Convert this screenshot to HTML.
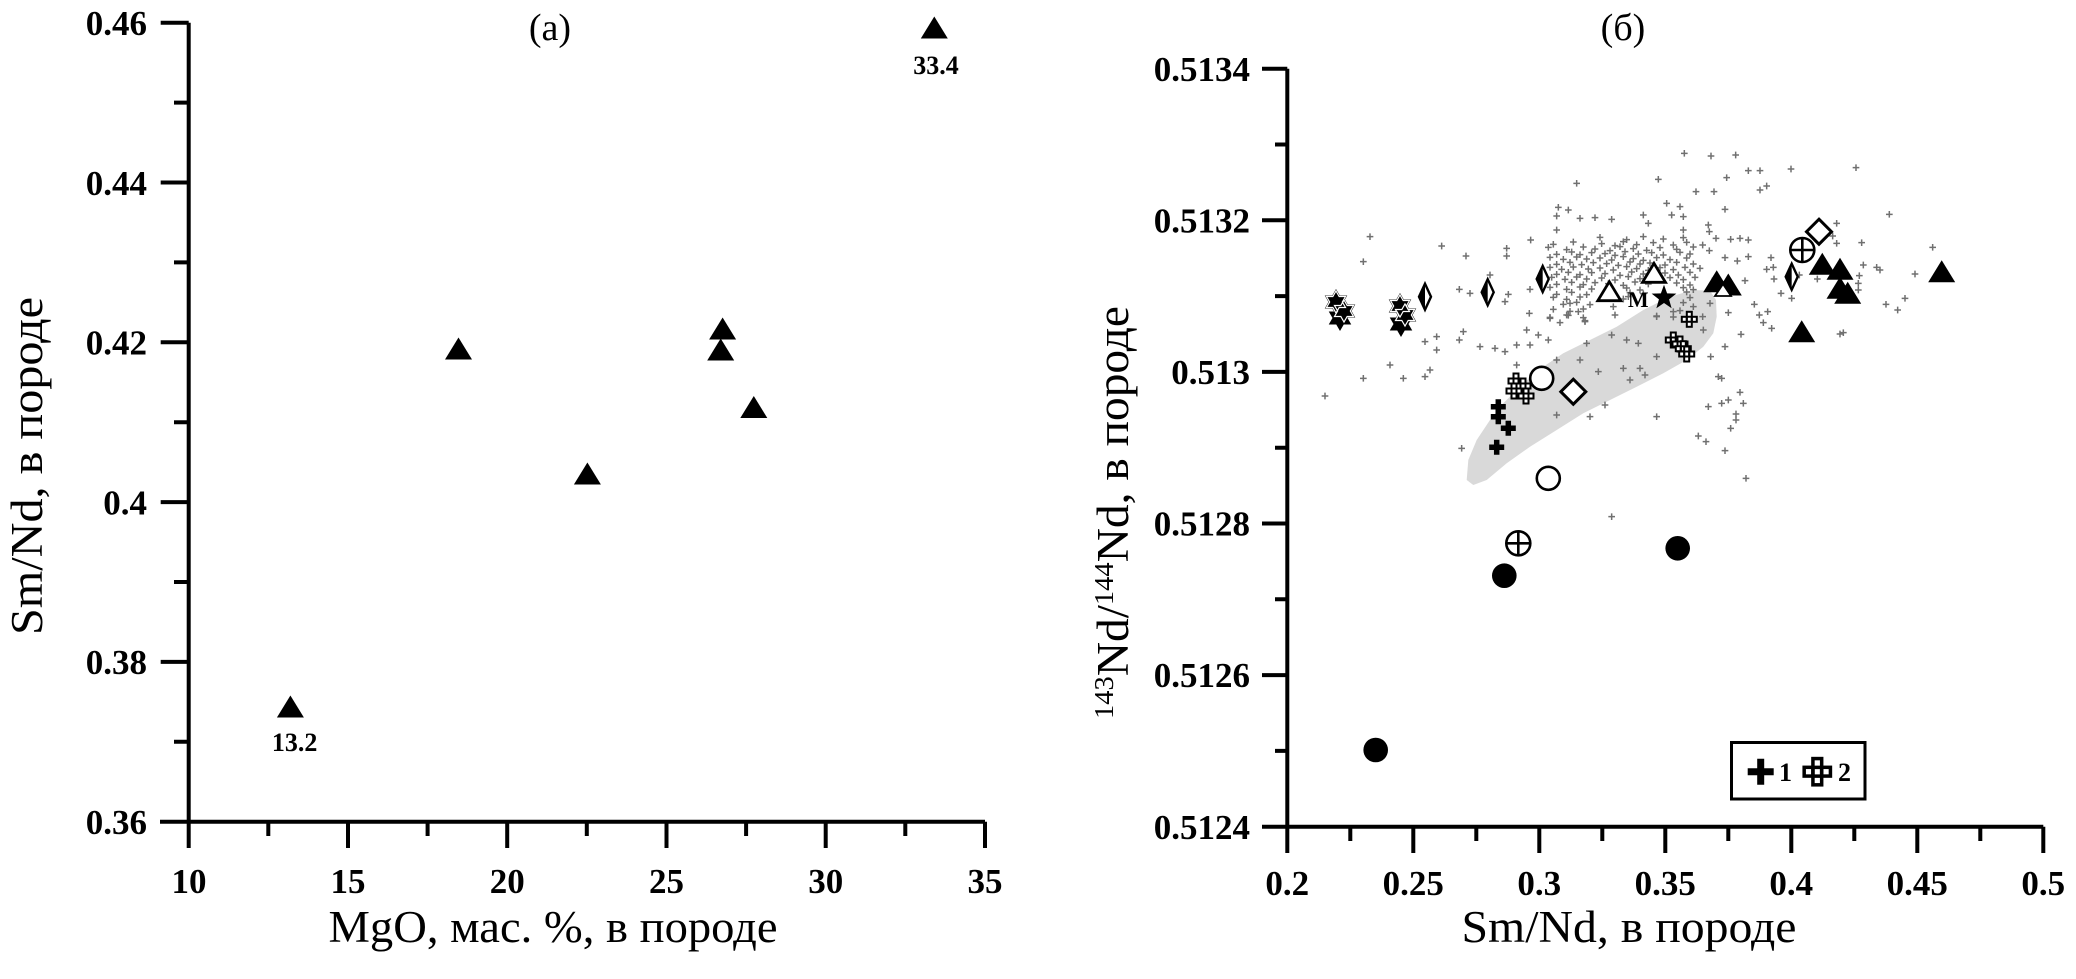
<!DOCTYPE html>
<html><head><meta charset="utf-8"><style>
html,body{margin:0;padding:0;background:#fff;}
svg{display:block;}
</style></head><body>
<svg width="2076" height="979" viewBox="0 0 2076 979" xmlns="http://www.w3.org/2000/svg">
<defs>
<path id="g" d="M-10 0h20M0-10v20" stroke="#707070" stroke-width="4.5" fill="none"/>
<polygon id="tri" points="0,-11.5 13.5,10.5 -13.5,10.5" fill="#000"/>
<polygon id="otri" points="0,-10 11.5,9 -11.5,9" fill="#fff" stroke="#000" stroke-width="2.8"/>
<polygon id="odia" points="0,-12.5 12.5,0 0,12.5 -12.5,0" fill="#fff" stroke="#000" stroke-width="3"/>
<g id="tdia"><polygon points="0,-13 6,0 0,13 -6,0" fill="#fff" stroke="#000" stroke-width="2.4"/><polygon points="0,-13 -6,0 0,13" fill="#000"/></g>
<circle id="ocir" r="11.5" fill="#fff" stroke="#000" stroke-width="2.6"/>
<g id="pcir"><circle r="12" fill="#fff" stroke="#000" stroke-width="2.6"/><path d="M-12 0h24M0-12v24" stroke="#000" stroke-width="2.6"/></g>
<circle id="fcir" r="12.3" fill="#000"/>
<path id="bx" d="M-7.5 0h15M0-7.5v15" stroke="#000" stroke-width="5.5"/>
<g id="sq"><rect x="-7.5" y="-2.5" width="15" height="5" fill="#fff" stroke="#000" stroke-width="2"/><rect x="-2.5" y="-7.5" width="5" height="15" fill="#fff" stroke="#000" stroke-width="2"/><path d="M-2.5-2.5v5M2.5-2.5v5M-2.5-2.5h5M-2.5 2.5h5" stroke="#000" stroke-width="2"/></g>
<polygon id="hex" points="0,-11 3.18,-5.5 9.53,-5.5 6.35,0 9.53,5.5 3.18,5.5 0,11 -3.18,5.5 -9.53,5.5 -6.35,0 -9.53,-5.5 -3.18,-5.5" fill="#000" stroke="#000" stroke-width="2"/>
<polygon id="hexw" points="0,-11 3.18,-5.5 9.53,-5.5 6.35,0 9.53,5.5 3.18,5.5 0,11 -3.18,5.5 -9.53,5.5 -6.35,0 -9.53,-5.5 -3.18,-5.5" fill="none" stroke="#fff" stroke-width="1.2"/>
<polygon id="star5" points="0,-13 3.12,-4.29 12.36,-4.02 5.04,1.64 7.64,10.52 0,5.3 -7.64,10.52 -5.04,1.64 -12.36,-4.02 -3.12,-4.29" fill="#000"/>
</defs>

<!-- ================= LEFT PANEL ================= -->
<g stroke="#000" stroke-width="4" fill="none">
<path d="M188.7 22.7V848M160 821.7H985"/>
<path d="M160.7 22.7H188.7M160.7 182.5H188.7M160.7 342.3H188.7M160.7 502.1H188.7M160.7 661.9H188.7"/>
<path d="M174 102.6H188.7M174 262.4H188.7M174 422.2H188.7M174 582H188.7M174 741.8H188.7"/>
<path d="M348 821.7V848M507.2 821.7V848M666.5 821.7V848M825.7 821.7V848M985 821.7V848"/>
<path d="M268.3 821.7V836M427.6 821.7V836M586.8 821.7V836M746.1 821.7V836M905.3 821.7V836"/>
</g>
<g font-family="'Liberation Serif',serif" font-weight="bold" font-size="35" fill="#000">
<g text-anchor="end">
<text x="147" y="35">0.46</text>
<text x="147" y="195">0.44</text>
<text x="147" y="354.5">0.42</text>
<text x="147" y="514.5">0.4</text>
<text x="147" y="674">0.38</text>
<text x="147" y="834">0.36</text>
</g>
<g text-anchor="middle">
<text x="189" y="893">10</text>
<text x="348" y="893">15</text>
<text x="507.2" y="893">20</text>
<text x="666.5" y="893">25</text>
<text x="825.7" y="893">30</text>
<text x="985" y="893">35</text>
</g>
</g>
<text x="550" y="40" text-anchor="middle" font-family="'Liberation Serif',serif" font-size="38">(а)</text>
<text x="553" y="942" text-anchor="middle" font-family="'Liberation Serif',serif" font-size="45" textLength="449" lengthAdjust="spacingAndGlyphs">MgO, мас. %, в породе</text>
<text transform="translate(42,466) rotate(-90)" text-anchor="middle" font-family="'Liberation Serif',serif" font-size="45" textLength="338" lengthAdjust="spacingAndGlyphs">Sm/Nd, в породе</text>

<use href="#tri" x="290.4" y="707"/>
<use href="#tri" x="458.5" y="349"/>
<use href="#tri" x="587.4" y="474"/>
<use href="#tri" x="722.6" y="329"/>
<use href="#tri" x="720.7" y="350"/>
<use href="#tri" x="753.8" y="407.5"/>
<use href="#tri" x="934.3" y="28"/>
<g font-family="'Liberation Serif',serif" font-weight="bold" font-size="26" text-anchor="middle">
<text x="294.6" y="751">13.2</text>
<text x="936" y="74">33.4</text>
</g>

<!-- ================= RIGHT PANEL ================= -->
<polygon fill="#d9d9d9" points="1466.7,480 1468.3,460 1476.7,440 1490,420 1503.3,403.3 1523.3,383.3 1543.3,366.7 1563.3,353.3 1590,340 1616.7,326.7 1643.3,310 1670,296.7 1693.3,290 1710,290.7 1716,300 1716.7,316.7 1713.3,333.3 1703.3,346.7 1686.7,360 1663.3,373.3 1636.7,386.7 1610,400 1583.3,413.3 1556.7,430 1530,446.7 1506.7,463.3 1486.7,480 1473.3,485"/>

<g transform="translate(1290,130) scale(0.33333)">
<use href="#g" x="1183" y="70"/><use href="#g" x="1105" y="148"/><use href="#g" x="860" y="160"/><use href="#g" x="1218" y="185"/><use href="#g" x="1130" y="220"/><use href="#g" x="1170" y="230"/><use href="#g" x="1145" y="255"/><use href="#g" x="1180" y="260"/><use href="#g" x="805" y="232"/><use href="#g" x="835" y="240"/><use href="#g" x="870" y="265"/><use href="#g" x="915" y="263"/><use href="#g" x="965" y="268"/><use href="#g" x="800" y="258"/><use href="#g" x="1060" y="255"/><use href="#g" x="1075" y="280"/><use href="#g" x="1180" y="300"/><use href="#g" x="800" y="300"/><use href="#g" x="722" y="330"/><use href="#g" x="240" y="320"/><use href="#g" x="220" y="395"/><use href="#g" x="455" y="348"/><use href="#g" x="528" y="378"/><use href="#g" x="650" y="355"/><use href="#g" x="650" y="378"/><use href="#g" x="600" y="435"/><use href="#g" x="508" y="478"/><use href="#g" x="540" y="490"/><use href="#g" x="655" y="493"/><use href="#g" x="645" y="515"/><use href="#g" x="720" y="478"/><use href="#g" x="718" y="550"/><use href="#g" x="780" y="565"/><use href="#g" x="885" y="575"/><use href="#g" x="830" y="555"/><use href="#g" x="865" y="545"/><use href="#g" x="840" y="520"/><use href="#g" x="970" y="530"/><use href="#g" x="975" y="555"/><use href="#g" x="1015" y="500"/><use href="#g" x="1100" y="560"/><use href="#g" x="1150" y="545"/><use href="#g" x="1210" y="530"/><use href="#g" x="1100" y="680"/><use href="#g" x="1010" y="630"/><use href="#g" x="1045" y="640"/><use href="#g" x="1000" y="715"/><use href="#g" x="1050" y="715"/><use href="#g" x="1065" y="735"/><use href="#g" x="1020" y="750"/><use href="#g" x="925" y="725"/><use href="#g" x="870" y="690"/><use href="#g" x="800" y="690"/><use href="#g" x="890" y="640"/><use href="#g" x="965" y="615"/><use href="#g" x="775" y="630"/><use href="#g" x="745" y="615"/><use href="#g" x="710" y="600"/><use href="#g" x="720" y="645"/><use href="#g" x="680" y="645"/><use href="#g" x="645" y="665"/><use href="#g" x="615" y="655"/><use href="#g" x="570" y="650"/><use href="#g" x="520" y="605"/><use href="#g" x="508" y="630"/><use href="#g" x="440" y="620"/><use href="#g" x="405" y="635"/><use href="#g" x="440" y="660"/><use href="#g" x="300" y="705"/><use href="#g" x="220" y="745"/><use href="#g" x="340" y="745"/><use href="#g" x="405" y="740"/><use href="#g" x="420" y="720"/><use href="#g" x="105" y="798"/><use href="#g" x="515" y="955"/><use href="#g" x="680" y="705"/><use href="#g" x="800" y="855"/><use href="#g" x="945" y="825"/><use href="#g" x="900" y="860"/><use href="#g" x="1100" y="860"/><use href="#g" x="1225" y="918"/><use href="#g" x="965" y="1160"/>
<use href="#g" x="930" y="322"/><use href="#g" x="1010" y="329"/><use href="#g" x="1060" y="320"/><use href="#g" x="1120" y="327"/><use href="#g" x="1180" y="323"/>
<use href="#g" x="790" y="343"/><use href="#g" x="850" y="336"/><use href="#g" x="935" y="341"/><use href="#g" x="975" y="347"/><use href="#g" x="1000" y="335"/><use href="#g" x="1040" y="344"/><use href="#g" x="1090" y="338"/><use href="#g" x="1150" y="345"/><use href="#g" x="1190" y="337"/>
<use href="#g" x="775" y="352"/><use href="#g" x="830" y="359"/><use href="#g" x="880" y="351"/><use href="#g" x="915" y="357"/><use href="#g" x="960" y="362"/><use href="#g" x="990" y="350"/><use href="#g" x="1030" y="356"/><use href="#g" x="1070" y="361"/><use href="#g" x="1110" y="353"/><use href="#g" x="1160" y="358"/><use href="#g" x="1210" y="351"/>
<use href="#g" x="800" y="373"/><use href="#g" x="845" y="366"/><use href="#g" x="870" y="374"/><use href="#g" x="905" y="368"/><use href="#g" x="945" y="371"/><use href="#g" x="975" y="376"/><use href="#g" x="1005" y="365"/><use href="#g" x="1045" y="372"/><use href="#g" x="1085" y="368"/><use href="#g" x="1120" y="375"/><use href="#g" x="1170" y="367"/><use href="#g" x="1200" y="372"/>
<use href="#g" x="780" y="382"/><use href="#g" x="820" y="388"/><use href="#g" x="860" y="381"/><use href="#g" x="890" y="387"/><use href="#g" x="930" y="384"/><use href="#g" x="965" y="390"/><use href="#g" x="1000" y="380"/><use href="#g" x="1030" y="386"/><use href="#g" x="1060" y="391"/><use href="#g" x="1100" y="383"/><use href="#g" x="1140" y="389"/><use href="#g" x="1190" y="384"/>
<use href="#g" x="800" y="403"/><use href="#g" x="840" y="397"/><use href="#g" x="875" y="404"/><use href="#g" x="910" y="398"/><use href="#g" x="950" y="401"/><use href="#g" x="985" y="406"/><use href="#g" x="1020" y="396"/><use href="#g" x="1050" y="402"/><use href="#g" x="1080" y="399"/><use href="#g" x="1125" y="405"/><use href="#g" x="1160" y="397"/><use href="#g" x="1210" y="402"/>
<use href="#g" x="780" y="412"/><use href="#g" x="815" y="418"/><use href="#g" x="850" y="411"/><use href="#g" x="895" y="417"/><use href="#g" x="930" y="414"/><use href="#g" x="970" y="420"/><use href="#g" x="1010" y="410"/><use href="#g" x="1040" y="416"/><use href="#g" x="1075" y="421"/><use href="#g" x="1110" y="413"/><use href="#g" x="1150" y="419"/><use href="#g" x="1185" y="412"/>
<use href="#g" x="800" y="433"/><use href="#g" x="835" y="427"/><use href="#g" x="870" y="434"/><use href="#g" x="905" y="428"/><use href="#g" x="945" y="431"/><use href="#g" x="990" y="436"/><use href="#g" x="1025" y="426"/><use href="#g" x="1060" y="432"/><use href="#g" x="1125" y="429"/><use href="#g" x="1165" y="435"/><use href="#g" x="1200" y="427"/>
<use href="#g" x="785" y="442"/><use href="#g" x="825" y="448"/><use href="#g" x="860" y="441"/><use href="#g" x="890" y="447"/><use href="#g" x="935" y="444"/><use href="#g" x="975" y="450"/><use href="#g" x="1015" y="440"/><use href="#g" x="1050" y="446"/><use href="#g" x="1140" y="443"/><use href="#g" x="1180" y="449"/><use href="#g" x="1215" y="442"/>
<use href="#g" x="800" y="463"/><use href="#g" x="845" y="457"/><use href="#g" x="880" y="464"/><use href="#g" x="915" y="458"/><use href="#g" x="955" y="461"/><use href="#g" x="1000" y="466"/><use href="#g" x="1035" y="456"/><use href="#g" x="1075" y="462"/><use href="#g" x="1160" y="459"/><use href="#g" x="1200" y="465"/>
<use href="#g" x="780" y="472"/><use href="#g" x="830" y="478"/><use href="#g" x="870" y="471"/><use href="#g" x="905" y="477"/><use href="#g" x="1010" y="474"/><use href="#g" x="1050" y="480"/><use href="#g" x="1180" y="473"/><use href="#g" x="1210" y="479"/>
<use href="#g" x="800" y="493"/><use href="#g" x="845" y="487"/><use href="#g" x="890" y="494"/><use href="#g" x="1020" y="488"/><use href="#g" x="1060" y="491"/><use href="#g" x="1190" y="486"/>
<use href="#g" x="790" y="502"/><use href="#g" x="830" y="508"/><use href="#g" x="870" y="501"/><use href="#g" x="1000" y="507"/><use href="#g" x="1200" y="503"/>
<use href="#g" x="820" y="523"/><use href="#g" x="860" y="517"/><use href="#g" x="900" y="524"/><use href="#g" x="1180" y="518"/>
<use href="#g" x="790" y="538"/><use href="#g" x="840" y="544"/><use href="#g" x="880" y="537"/><use href="#g" x="1170" y="542"/>
<use href="#g" x="780" y="562"/><use href="#g" x="835" y="556"/><use href="#g" x="880" y="563"/><use href="#g" x="1100" y="558"/><use href="#g" x="1150" y="561"/>
<use href="#g" x="810" y="578"/><use href="#g" x="885" y="572"/>
</g>
<g transform="translate(1700,130) scale(0.33333)">
<use href="#g" x="33" y="78"/><use href="#g" x="107" y="75"/><use href="#g" x="145" y="122"/><use href="#g" x="180" y="122"/><use href="#g" x="80" y="143"/><use href="#g" x="42" y="185"/><use href="#g" x="180" y="180"/><use href="#g" x="200" y="168"/><use href="#g" x="273" y="117"/><use href="#g" x="468" y="113"/><use href="#g" x="568" y="253"/><use href="#g" x="75" y="238"/><use href="#g" x="25" y="285"/><use href="#g" x="28" y="305"/><use href="#g" x="48" y="325"/><use href="#g" x="92" y="328"/><use href="#g" x="120" y="325"/><use href="#g" x="145" y="330"/><use href="#g" x="8" y="345"/><use href="#g" x="28" y="362"/><use href="#g" x="75" y="383"/><use href="#g" x="112" y="393"/><use href="#g" x="145" y="380"/><use href="#g" x="213" y="383"/><use href="#g" x="200" y="418"/><use href="#g" x="220" y="412"/><use href="#g" x="222" y="447"/><use href="#g" x="135" y="452"/><use href="#g" x="410" y="280"/><use href="#g" x="398" y="318"/><use href="#g" x="410" y="340"/><use href="#g" x="485" y="338"/><use href="#g" x="490" y="405"/><use href="#g" x="530" y="412"/><use href="#g" x="540" y="420"/><use href="#g" x="478" y="437"/><use href="#g" x="475" y="460"/><use href="#g" x="475" y="480"/><use href="#g" x="352" y="447"/><use href="#g" x="298" y="435"/><use href="#g" x="645" y="432"/><use href="#g" x="698" y="352"/><use href="#g" x="615" y="505"/><use href="#g" x="558" y="523"/><use href="#g" x="593" y="540"/><use href="#g" x="163" y="523"/><use href="#g" x="178" y="555"/><use href="#g" x="203" y="545"/><use href="#g" x="190" y="578"/><use href="#g" x="215" y="595"/><use href="#g" x="275" y="505"/><use href="#g" x="243" y="490"/><use href="#g" x="85" y="548"/><use href="#g" x="123" y="613"/><use href="#g" x="32" y="680"/><use href="#g" x="75" y="650"/><use href="#g" x="55" y="740"/><use href="#g" x="65" y="745"/><use href="#g" x="120" y="787"/><use href="#g" x="85" y="810"/><use href="#g" x="65" y="820"/><use href="#g" x="25" y="830"/><use href="#g" x="130" y="820"/><use href="#g" x="108" y="852"/><use href="#g" x="108" y="870"/><use href="#g" x="92" y="895"/><use href="#g" x="18" y="935"/><use href="#g" x="75" y="962"/><use href="#g" x="138" y="1045"/><use href="#g" x="420" y="612"/><use href="#g" x="430" y="608"/><use href="#g" x="0" y="415"/><use href="#g" x="45" y="445"/><use href="#g" x="95" y="470"/><use href="#g" x="30" y="520"/><use href="#g" x="8" y="560"/><use href="#g" x="10" y="600"/>
</g>

<g stroke="#000" stroke-width="4" fill="none">
<path d="M1287.3 68.7V853M1262 826.7H2043.3"/>
<path d="M1262 68.7H1287.3M1262 220.3H1287.3M1262 371.9H1287.3M1262 523.5H1287.3M1262 675.1H1287.3"/>
<path d="M1275 144.5H1287.3M1275 296.1H1287.3M1275 447.7H1287.3M1275 599.3H1287.3M1275 750.9H1287.3"/>
<path d="M1413.3 826.7V853M1539.3 826.7V853M1665.3 826.7V853M1791.3 826.7V853M1917.3 826.7V853M2043.3 826.7V853"/>
<path d="M1350.3 826.7V841M1476.3 826.7V841M1602.3 826.7V841M1728.3 826.7V841M1854.3 826.7V841M1980.3 826.7V841"/>
</g>
<g font-family="'Liberation Serif',serif" font-weight="bold" font-size="35" fill="#000">
<g text-anchor="end">
<text x="1250" y="81">0.5134</text>
<text x="1250" y="232.5">0.5132</text>
<text x="1250" y="384">0.513</text>
<text x="1250" y="535.5">0.5128</text>
<text x="1250" y="687">0.5126</text>
<text x="1250" y="839">0.5124</text>
</g>
<g text-anchor="middle">
<text x="1287.3" y="895">0.2</text>
<text x="1413.3" y="895">0.25</text>
<text x="1539.3" y="895">0.3</text>
<text x="1665.3" y="895">0.35</text>
<text x="1791.3" y="895">0.4</text>
<text x="1917.3" y="895">0.45</text>
<text x="2043.3" y="895">0.5</text>
</g>
</g>
<text x="1623" y="40" text-anchor="middle" font-family="'Liberation Serif',serif" font-size="38">(б)</text>
<text x="1629" y="942" text-anchor="middle" font-family="'Liberation Serif',serif" font-size="45" textLength="335" lengthAdjust="spacingAndGlyphs">Sm/Nd, в породе</text>
<text transform="translate(1128,512.5) rotate(-90)" text-anchor="middle" font-family="'Liberation Serif',serif" font-size="45" textLength="413" lengthAdjust="spacingAndGlyphs"><tspan font-size="27" dy="-15">143</tspan><tspan dy="15">Nd/</tspan><tspan font-size="27" dy="-15">144</tspan><tspan dy="15">Nd, в породе</tspan></text>

<use href="#hex" x="1336" y="302"/><use href="#hex" x="1344" y="311"/><use href="#hex" x="1340" y="318"/>
<use href="#hexw" x="1336" y="302"/><use href="#hexw" x="1344" y="311"/>
<use href="#hex" x="1400" y="306"/><use href="#hex" x="1405" y="315"/><use href="#hex" x="1401" y="324"/>
<use href="#hexw" x="1400" y="306"/><use href="#hexw" x="1405" y="315"/>
<use href="#tdia" x="1425" y="296.7"/>
<use href="#tdia" x="1487.7" y="292.3"/>
<use href="#tdia" x="1542.7" y="279"/>
<use href="#tdia" x="1791.7" y="276.7"/>
<use href="#otri" x="1609.3" y="291.7"/>
<use href="#otri" x="1654" y="273.3"/>
<text x="1638.3" y="307" text-anchor="middle" font-family="'Liberation Serif',serif" font-weight="bold" font-size="22">M</text>
<use href="#star5" x="1664" y="297.7"/>
<use href="#tri" x="1716.7" y="281.7"/>
<use href="#tri" x="1728.3" y="285"/>
<polygon points="1723,284 1731,296 1715,296" fill="#fff" stroke="#000" stroke-width="1.8"/>
<use href="#tri" x="1822.3" y="264.3"/>
<use href="#tri" x="1840" y="269.3"/>
<use href="#tri" x="1840" y="288.3"/>
<use href="#tri" x="1847.7" y="293.3"/>
<use href="#tri" x="1801.7" y="331.7"/>
<use href="#tri" x="1941.7" y="271.7"/>
<use href="#odia" x="1819" y="231.7"/>
<use href="#odia" x="1573.3" y="391.7"/>
<use href="#pcir" x="1802.3" y="250"/>
<use href="#pcir" x="1518.3" y="543.3"/>
<use href="#sq" x="1689.3" y="319.3"/>
<use href="#sq" x="1673.3" y="340"/><use href="#sq" x="1680" y="344"/><use href="#sq" x="1683.3" y="348.7"/><use href="#sq" x="1686.7" y="354"/>
<use href="#sq" x="1516" y="381"/><use href="#sq" x="1523" y="386"/><use href="#sq" x="1514" y="391"/><use href="#sq" x="1526" y="396"/>
<use href="#ocir" x="1541.7" y="378.3"/>
<use href="#ocir" x="1548.3" y="478.3"/>
<use href="#bx" x="1498.3" y="406.7"/>
<use href="#bx" x="1498.3" y="416.7"/>
<use href="#bx" x="1508.3" y="428.3"/>
<use href="#bx" x="1496.7" y="447.3"/>
<use href="#fcir" x="1504.3" y="575.7"/>
<use href="#fcir" x="1677.7" y="548.3"/>
<use href="#fcir" x="1375.7" y="750"/>

<rect x="1731.5" y="742.5" width="133.5" height="56.5" fill="#fff" stroke="#000" stroke-width="3"/>
<path d="M1747.7 771.7h26M1760.7 758.7v26" stroke="#000" stroke-width="7"/>
<use href="#sq" transform="translate(1817.3,771.7) scale(1.75)"/>
<g font-family="'Liberation Serif',serif" font-weight="bold" font-size="26">
<text x="1779" y="781">1</text>
<text x="1838" y="781">2</text>
</g>
</svg>
</body></html>
